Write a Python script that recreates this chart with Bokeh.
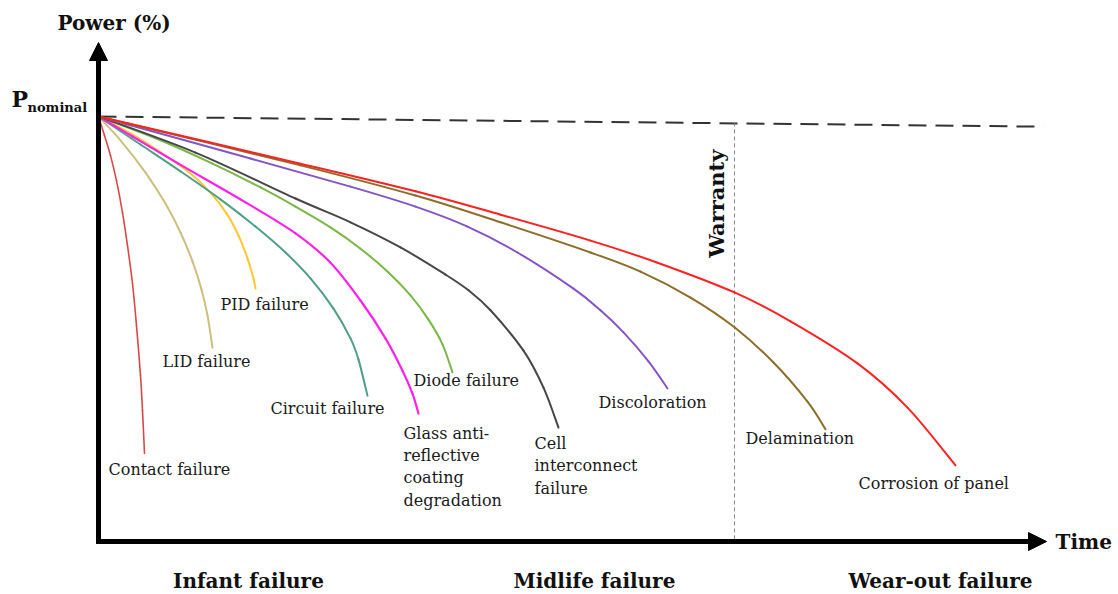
import math
from bokeh.plotting import figure
from bokeh.models import Range1d, Arrow, NormalHead
from bokeh.core.properties import value
from bokeh.embed import file_html
from bokeh.resources import INLINE

# ---- data (time: arbitrary units, power: % of nominal) ----
contact_time = [0, 0.6, 1.2, 1.8, 2.4, 2.9, 3.4, 3.8, 4.2, 4.4, 4.6]
contact_power = [100, 95.5, 90.8, 84.9, 77.4, 69.6, 60.7, 50.8, 39.1, 30.8, 20.7]

lid_time = [0, 2.2, 4.7, 6.7, 8.2, 9.4, 10.3, 10.9, 11.4]
lid_power = [100, 94.4, 86.8, 79.5, 72.7, 65.9, 59.3, 53.2, 45.6]

pid_time = [0, 3.2, 6.7, 9.2, 11.2, 12.8, 14.0, 14.9, 15.5, 15.7]
pid_power = [100, 96.0, 90.8, 86.6, 82.1, 77.2, 72.0, 66.6, 61.9, 59.5]

circuit_time = [0, 4.2, 8.2, 12.2, 15.7, 18.7, 21.2, 23.5, 25.2, 26.0, 26.9]
circuit_power = [100, 93.4, 87.1, 80.5, 74.1, 68.0, 61.9, 54.8, 47.8, 42.8, 34.3]

glass_time = [0, 3.4, 8.0, 14.7, 19.7, 23.2, 26.2, 28.7, 30.4, 31.4, 32.0]
glass_power = [100, 95.3, 88.9, 79.8, 72.5, 65.6, 56.7, 47.8, 40.2, 34.8, 30.1]

diode_time = [0, 6.2, 11.4, 16.2, 19.7, 23.2, 26.2, 29.0, 31.2, 33.0, 34.4, 35.4]
diode_power = [100, 94.4, 88.9, 83.3, 78.8, 73.9, 68.9, 63.3, 57.9, 52.2, 46.4, 39.8]

cell_time = [0, 9.7, 19.7, 25.2, 30.2, 34.7, 37.0, 39.2, 42.5, 44.5, 46.0]
cell_power = [100, 91.5, 80.7, 75.1, 69.2, 62.8, 59.1, 54.4, 44.9, 36.2, 26.8]

discolor_time = [0, 15.2, 25.2, 31.7, 36.9, 41.9, 47.5, 50.2, 52.5, 55.0, 56.9]
discolor_power = [100, 90.1, 83.5, 78.8, 74.1, 68.0, 59.5, 54.4, 49.2, 42.4, 36.0]

delam_time = [0, 20.2, 31.7, 40.2, 49.2, 54.2, 59.2, 63.6, 67.5, 70.9, 72.7]
delam_power = [100, 88.5, 81.4, 75.1, 68.0, 63.5, 57.4, 50.4, 42.1, 32.9, 26.4]

corrosion_time = [0, 20.2, 31.7, 40.2, 49.2, 55.9, 63.6, 69.2, 75.9, 80.9, 85.7]
corrosion_power = [100, 88.9, 82.4, 76.9, 70.8, 65.6, 58.6, 51.8, 41.9, 31.5, 17.9]

nominal_time = [0, 94.5]
nominal_power = [100, 97.6]

warranty_time = 63.6
warranty_power_top = 98.6

curve_labels = ["Contact failure", "LID failure", "PID failure", "Circuit failure",
                "Glass anti-\nreflective\ncoating\ndegradation", "Diode failure",
                "Cell\ninterconnect\nfailure", "Discoloration", "Delamination",
                "Corrosion of panel"]
label_time = [1.0, 6.4, 12.2, 17.2, 30.5, 31.5, 43.6, 50.0, 64.7, 76.0]
label_power = [16.9, 42.4, 55.8, 31.3, 17.6, 37.9, 17.8, 32.7, 24.2, 13.6]

phase_labels = ["Infant failure", "Midlife failure", "Wear-out failure"]
phase_time = [15.0, 49.6, 84.2]
phase_power = [-9.2, -9.2, -9.2]

curves = [
    (contact_time, contact_power, "#d94848", 1.6),
    (lid_time, lid_power, "#cdbf7d", 2.0),
    (pid_time, pid_power, "#ffc733", 2.0),
    (circuit_time, circuit_power, "#4f9e88", 2.0),
    (glass_time, glass_power, "#ff22e6", 2.2),
    (diode_time, diode_power, "#7ab648", 2.0),
    (cell_time, cell_power, "#474747", 2.0),
    (discolor_time, discolor_power, "#8555c5", 2.0),
    (delam_time, delam_power, "#8c6d2c", 2.0),
    (corrosion_time, corrosion_power, "#ff2222", 2.0),
]

SERIF = value("DejaVu Serif")

p = figure(width=1118, height=594, output_backend="svg", toolbar_location=None,
           x_range=Range1d(-9.8, 102.0), y_range=Range1d(-12.47, 127.29),
           x_axis_location=None, y_axis_location=None, min_border=0)
p.xgrid.visible = False
p.ygrid.visible = False
p.outline_line_color = None
p.background_fill_color = "white"

# nominal power dashed line
p.line(nominal_time, nominal_power, line_color="#333333", line_width=2, line_dash="18 9")

# warranty line
p.line([warranty_time, warranty_time], [warranty_power_top, 0], line_color="#888888",
       line_width=1, line_dash="4 3")


def smooth_segments(t, pw):
    """Catmull-Rom style bezier segments through the read points."""
    n = len(t)
    x0, y0, x1, y1, cx0, cy0, cx1, cy1 = ([] for _ in range(8))
    for i in range(n - 1):
        a = max(i - 1, 0)
        b = min(i + 2, n - 1)
        x0.append(t[i]); y0.append(pw[i])
        x1.append(t[i + 1]); y1.append(pw[i + 1])
        cx0.append(t[i] + (t[i + 1] - t[a]) / 6.0)
        cy0.append(pw[i] + (pw[i + 1] - pw[a]) / 6.0)
        cx1.append(t[i + 1] - (t[b] - t[i]) / 6.0)
        cy1.append(pw[i + 1] - (pw[b] - pw[i]) / 6.0)
    return dict(x0=x0, y0=y0, x1=x1, y1=y1, cx0=cx0, cy0=cy0, cx1=cx1, cy1=cy1)


# degradation curves
for t, pw, c, w in curves:
    s = smooth_segments(t, pw)
    p.bezier(x0=s["x0"], y0=s["y0"], x1=s["x1"], y1=s["y1"],
             cx0=s["cx0"], cy0=s["cy0"], cx1=s["cx1"], cy1=s["cy1"],
             line_color=c, line_width=w, line_cap="round")

# axes with arrow heads
p.add_layout(Arrow(end=NormalHead(size=18, fill_color="black", line_color="black"),
                   x_start=0, y_start=-0.6, x_end=0, y_end=117.4,
                   line_width=5, line_color="black"))
p.add_layout(Arrow(end=NormalHead(size=18, fill_color="black", line_color="black"),
                   x_start=-0.25, y_start=0, x_end=94.8, y_end=0,
                   line_width=5, line_color="black"))

# curve labels
p.text(label_time, label_power, text=curve_labels, text_font=SERIF, text_font_size="16px",
       text_color="#1a1a1a", text_align="left", text_baseline="middle", text_line_height=1.18)

# phase labels
p.text(phase_time, phase_power, text=phase_labels, text_font=SERIF, text_font_size="20px",
       text_font_style="bold", text_color="#111111", text_align="center", text_baseline="middle")

# axis titles
p.text([1.55], [121.9], text=["Power (%)"], text_font=SERIF, text_font_size="20px",
       text_font_style="bold", text_color="#111111", text_align="center", text_baseline="middle")
p.text([95.7], [0], text=["Time"], text_font=SERIF, text_font_size="20px",
       text_font_style="bold", text_color="#111111", text_align="left", text_baseline="middle")
p.text([-8.7], [104.0], text=["P"], text_font=SERIF, text_font_size="22px",
       text_font_style="bold", text_color="#111111", text_align="left", text_baseline="middle")
p.text([-7.1], [102.0], text=["nominal"], text_font=SERIF, text_font_size="13px",
       text_font_style="bold", text_color="#111111", text_align="left", text_baseline="middle")

# warranty label
p.text([61.8], [79.5], text=["Warranty"], text_font=SERIF, text_font_size="21px",
       text_font_style="bold", text_color="#111111", text_align="center", text_baseline="middle",
       angle=math.pi / 2)

open("out.html", "w").write(file_html(p, INLINE))
